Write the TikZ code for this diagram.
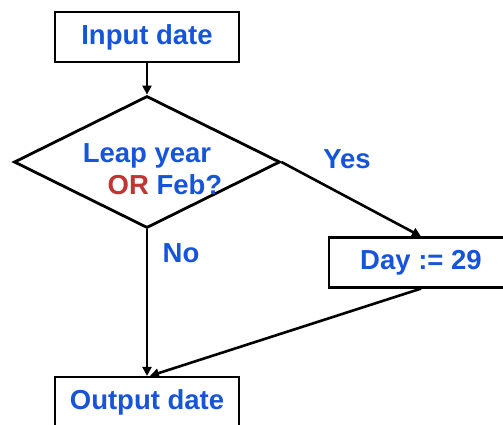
\documentclass[tikz,border=0pt]{standalone}
\usepackage{fontspec}
\setmainfont{Liberation Sans}
\usetikzlibrary{shapes.geometric,arrows.meta}
\definecolor{tblue}{RGB}{22,84,218}
\definecolor{tred}{RGB}{192,52,52}
\tikzset{
  boxnode/.style={draw=black, line width=2.2pt, minimum width=184pt, minimum height=50pt, inner sep=0pt, text=tblue, font=\fontsize{27.5}{32}\selectfont\bfseries},
  decnode/.style={draw=black, diamond, line width=2.8pt, minimum width=266pt, minimum height=132pt, inner sep=0pt},
  lbl/.style={text=tblue, font=\fontsize{27.5}{32}\selectfont\bfseries, anchor=base, inner sep=0pt},
  arr/.style={draw=black, line width=2.6pt, -{Triangle[length=9pt,width=9pt]}},
}
\begin{document}
\begin{tikzpicture}[x=1pt,y=-1pt]
\useasboundingbox (0,0) rectangle (503,425);
\node[boxnode] (in) at (147,37) {Input date};
\node[decnode] (dec) at (147,162) {};
\node[lbl] (t1) at (147,162) {Leap year};
\node[lbl] (t2) at (165,194) {\textcolor{tred}{OR} Feb?};
\node[boxnode, minimum width=184pt] (day) at (421,262.5) {Day := 29};
\node[boxnode] (out) at (147,402) {Output date};
\node[lbl] (yes) at (347,168) {Yes};
\node[lbl] (no) at (181,262) {No};
\draw[arr] (in.south) -- (dec.north);
\draw[arr] (dec.east) -- (day.north);
\draw[arr] (dec.south) -- (out.north);
\draw[arr] (day.south) -- ([xshift=3pt]out.north);
\end{tikzpicture}
\end{document}
